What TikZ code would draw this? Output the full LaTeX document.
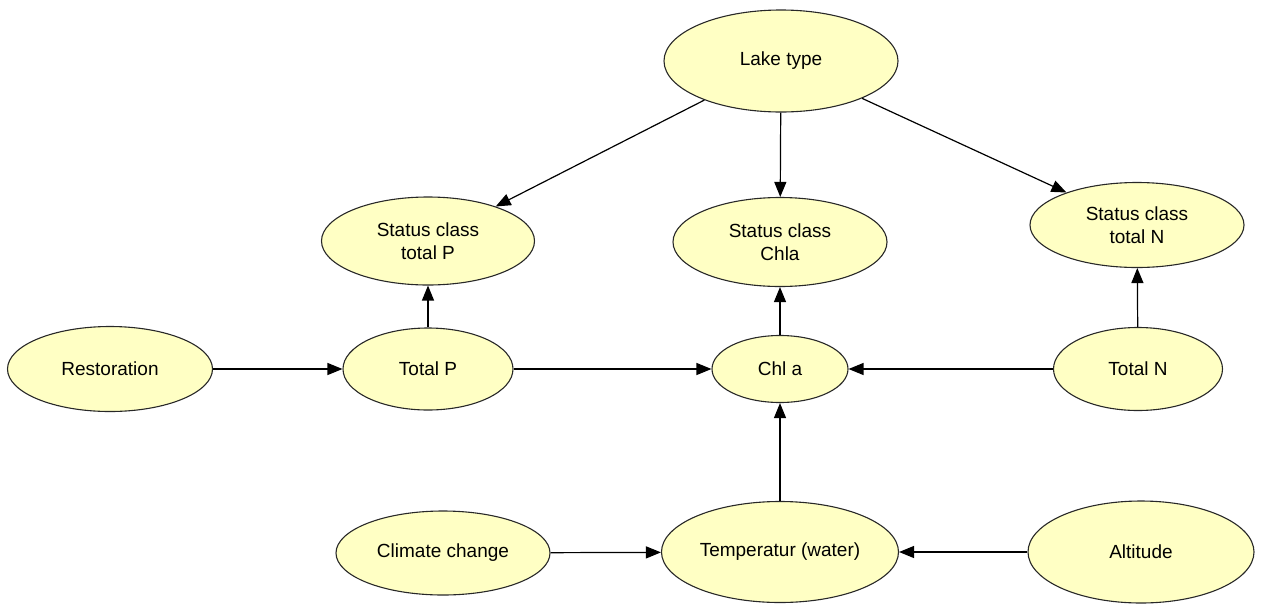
\documentclass[tikz,border=0pt]{standalone}
\usepackage{fontspec}
\setmainfont{Liberation Sans}
\usetikzlibrary{shapes.geometric,arrows.meta}
\definecolor{nodefill}{RGB}{255,255,196}
\definecolor{nodeline}{RGB}{40,40,40}
\tikzset{
  var/.style={ellipse, draw=nodeline, line width=1.1pt, fill=nodefill, inner sep=0pt,
    align=center, font=\fontsize{19}{23}\selectfont},
  link/.style={line width=1.2pt, -{Triangle[length=15pt,width=12pt]}},
}
\begin{document}
\begin{tikzpicture}[x=1pt,y=-1pt]
\useasboundingbox (0,0) rectangle (1262,603);
% variables of the network
\node[var, minimum width=234pt, minimum height=102pt] (lake) at (781,61) {Lake type};
\node[var, minimum width=213pt, minimum height=88pt] (scp) at (428,241) {Status class\\total P};
\node[var, minimum width=214pt, minimum height=89pt] (scc) at (780,242) {Status class\\Chla};
\node[var, minimum width=214pt, minimum height=85pt] (scn) at (1137,225) {Status class\\total N};
\node[var, minimum width=205pt, minimum height=85pt] (rest) at (110,369) {Restoration};
\node[var, minimum width=170pt, minimum height=82pt] (tp) at (428,369) {Total P};
\node[var, minimum width=136pt, minimum height=67pt] (chl) at (780,369) {Chl a};
\node[var, minimum width=169pt, minimum height=83pt] (tn) at (1138,369) {Total N};
\node[var, minimum width=214pt, minimum height=84pt] (clim) at (443,553) {Climate change};
\node[var, minimum width=237pt, minimum height=101pt] (temp) at (780,552) {Temperatur (water)};
\node[var, minimum width=226pt, minimum height=102pt] (alt) at (1141,552) {Altitude};
% dependencies
\draw[link] (lake) -- (scp);
\draw[link] (lake) -- (scc);
\draw[link] (lake) -- (scn);
\draw[link] (tp) -- (scp);
\draw[link] (chl) -- (scc);
\draw[link] (tn) -- (scn);
\draw[link] (rest) -- (tp);
\draw[link] (tp) -- (chl);
\draw[link] (tn) -- (chl);
\draw[link] (temp) -- (chl);
\draw[link] (clim) -- (temp);
\draw[link] (alt) -- (temp);
\end{tikzpicture}
\end{document}
